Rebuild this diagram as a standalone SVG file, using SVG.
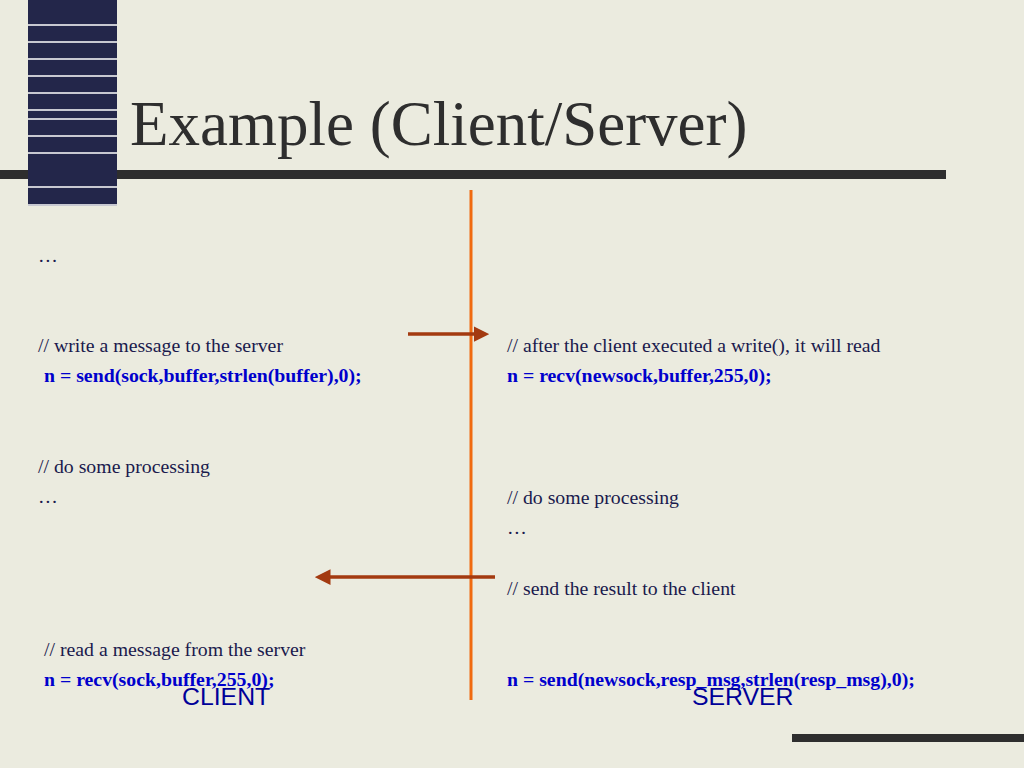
<svg xmlns="http://www.w3.org/2000/svg" width="1024" height="768" viewBox="0 0 1024 768">
<style>
.c{font-family:"Liberation Serif",serif;font-size:19.8px;fill:#1a1a4d}
.k{font-family:"Liberation Serif",serif;font-size:19.8px;font-weight:bold;fill:#0000cc}
.l{font-family:"Liberation Sans",sans-serif;font-size:24.8px;fill:#000099}
.w{stroke:#fff;stroke-width:1.5}
</style>
<defs><marker id="a" markerWidth="4.5" markerHeight="4.5" refX="3" refY="2.25" orient="auto"><path d="M0,0L4.5,2.25L0,4.5z" fill="#a33a10"/></marker></defs>
<rect width="1024" height="768" fill="#ebebdf"/>
<g id="decor">
<rect x="28" y="0" width="89" height="206" fill="#23264a"/>
<g class="w"><line x1="28" y1="25" x2="117" y2="25"/><line x1="28" y1="42" x2="117" y2="42"/><line x1="28" y1="59" x2="117" y2="59"/><line x1="28" y1="76" x2="117" y2="76"/><line x1="28" y1="93" x2="117" y2="93"/><line x1="28" y1="110" x2="117" y2="110"/><line x1="28" y1="119" x2="117" y2="119"/><line x1="28" y1="136" x2="117" y2="136"/><line x1="28" y1="153" x2="117" y2="153"/><line x1="28" y1="187" x2="117" y2="187"/><line x1="28" y1="205" x2="117" y2="205"/></g>
<rect x="0" y="170" width="28" height="9" fill="#2e2e2e"/>
<rect x="117" y="170" width="829" height="9" fill="#2e2e2e"/>
<rect x="792" y="734" width="232" height="8" fill="#2e2e2e"/>
<text x="130" y="145" font-family="Liberation Serif,serif" font-size="63" fill="#2e2e2e">Example (Client/Server)</text>
</g>
<g id="connectors">
<line x1="471" y1="190" x2="471" y2="700" stroke="#f06a10" stroke-width="3"/>
<line x1="408" y1="334" x2="484" y2="334" stroke="#a33a10" stroke-width="3.5" marker-end="url(#a)"/>
<line x1="495" y1="577" x2="320" y2="577" stroke="#a33a10" stroke-width="3.5" marker-end="url(#a)"/>
</g>
<g id="client">
<text class="c" x="38" y="262">…</text>
<text class="c" x="38" y="352">// write a message to the server</text>
<text class="k" x="44" y="382">n = send(sock,buffer,strlen(buffer),0);</text>
<text class="c" x="38" y="473">// do some processing</text>
<text class="c" x="38" y="503">…</text>
<text class="c" x="44" y="656">// read a message from the server</text>
<text class="k" x="44" y="686">n = recv(sock,buffer,255,0);</text>
<text class="l" x="182" y="705">CLIENT</text>
</g>
<g id="server">
<text class="c" x="507" y="352">// after the client executed a write(), it will read</text>
<text class="k" x="507" y="382">n = recv(newsock,buffer,255,0);</text>
<text class="c" x="507" y="504">// do some processing</text>
<text class="c" x="507" y="534">…</text>
<text class="c" x="507" y="595">// send the result to the client</text>
<text class="k" x="507" y="686">n = send(newsock,resp_msg,strlen(resp_msg),0);</text>
<text class="l" x="692" y="705">SERVER</text>
</g>
</svg>
